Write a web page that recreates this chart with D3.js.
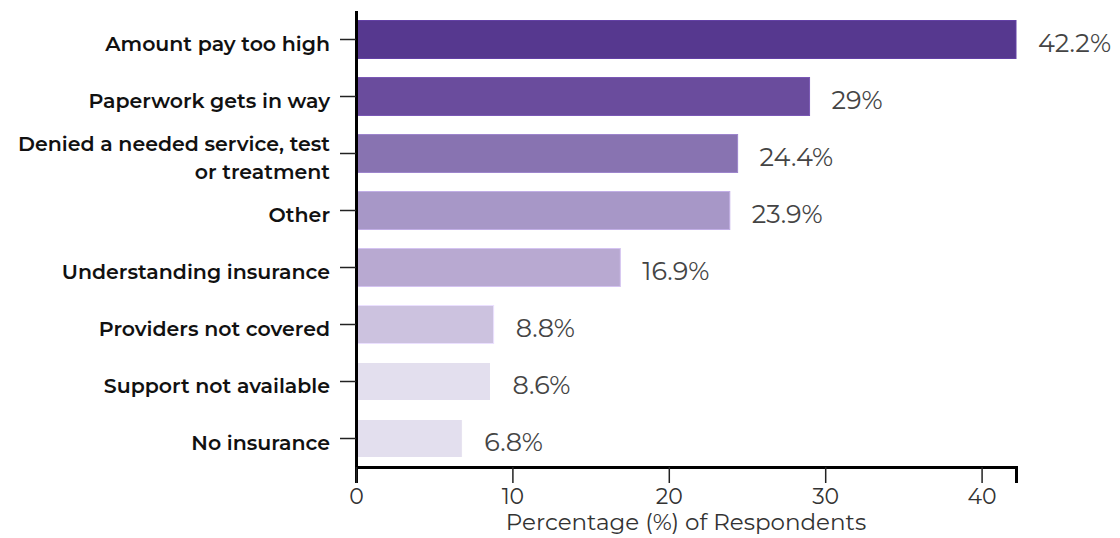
<!DOCTYPE html>
<html>
<head>
<meta charset="utf-8">
<script src="https://cdn.jsdelivr.net/npm/d3@7"></script>
<style>
  html, body { margin: 0; padding: 0; background: #fff; }
  svg { display: block; font-family: "Montserrat", "DejaVu Sans", sans-serif; }
</style>
</head>
<body>
<svg id="chart" width="1120" height="538"></svg>
<script>
// Reasons respondents gave for difficulty with insurance
const categories = [
  "Amount pay too high",
  "Paperwork gets in way",
  "Denied a needed service, test|or treatment",
  "Other",
  "Understanding insurance",
  "Providers not covered",
  "Support not available",
  "No insurance"
];
const values = [42.2, 29, 24.4, 23.9, 16.9, 8.8, 8.6, 6.8];
const valueLabels = ["42.2%", "29%", "24.4%", "23.9%", "16.9%", "8.8%", "8.6%", "6.8%"];
const barColors = ["#56388f", "#6a4c9d", "#8873b1", "#a797c7", "#b8a9d1", "#ccc2df", "#e3dfee", "#e3dfee"];
const xTicks = [0, 10, 20, 30, 40];
const xTitle = "Percentage (%) of Respondents";

const svg = d3.select("#chart");
const plot = { left: 356, right: 1016, top: 11, bottom: 467 };

const x = d3.scaleLinear().domain([0, 42.2]).range([plot.left, plot.right]);
const y = d3.scaleBand().domain(categories).range([plot.top, plot.bottom])
  .paddingInner(1 / 3).paddingOuter(1 / 6);

// bars
svg.append("g").selectAll("rect")
  .data(categories)
  .join("rect")
  .attr("x", x(0))
  .attr("y", d => y(d))
  .attr("width", (d, i) => x(values[i]) - x(0))
  .attr("height", y.bandwidth())
  .attr("fill", (d, i) => barColors[i])
  .attr("stroke", (d, i) => d3.color(barColors[i]).brighter(0.4))
  .attr("stroke-width", 1);

// value labels
svg.append("g").selectAll("text")
  .data(categories)
  .join("text")
  .attr("x", (d, i) => x(values[i]) + 22)
  .attr("y", d => y(d) + y.bandwidth() / 2 + 6)
  .attr("dominant-baseline", "middle")
  .attr("font-size", 25.5)
  .attr("font-weight", 400)
  .attr("fill", "#444")
  .text((d, i) => valueLabels[i]);

// x axis
const xAxis = svg.append("g")
  .attr("transform", `translate(0,${plot.bottom})`)
  .call(d3.axisBottom(x).tickValues(xTicks).tickSize(16).tickPadding(5).tickFormat(d3.format("d")));
xAxis.select(".domain").attr("stroke", "#000").attr("stroke-width", 3);
xAxis.selectAll(".tick line").attr("stroke", "#222").attr("stroke-width", 1.5);
xAxis.selectAll(".tick text").attr("font-size", 22).attr("fill", "#333")
  .attr("font-family", "Montserrat, 'DejaVu Sans', sans-serif").attr("font-weight", 400);

svg.append("text")
  .attr("x", 686)
  .attr("y", 524)
  .attr("dominant-baseline", "middle")
  .attr("text-anchor", "middle")
  .attr("font-size", 23)
  .attr("fill", "#333")
  .text(xTitle);

// y axis
const yAxis = svg.append("g")
  .attr("transform", `translate(${plot.left},0)`)
  .call(d3.axisLeft(y).tickSize(16).tickFormat(""));
yAxis.select(".domain").attr("stroke", "#000").attr("stroke-width", 3)
  .attr("d", `M0.5,${plot.top}V${plot.bottom}`);
yAxis.selectAll(".tick line").attr("stroke", "#222").attr("stroke-width", 1.5);

// category labels, with line breaks at "|"
const lab = svg.append("g").selectAll("text")
  .data(categories)
  .join("text")
  .attr("text-anchor", "end")
  .attr("font-size", 20.5)
  .attr("font-weight", 600)
  .attr("fill", "#111");
lab.each(function (d) {
  const lines = d.split("|");
  const cy = y(d) + y.bandwidth() / 2 + 6.5;
  const lh = 28;
  const t = d3.select(this);
  lines.forEach((ln, k) => {
    t.append("tspan")
      .attr("x", 330)
      .attr("y", cy + (k - (lines.length - 1) / 2) * lh)
      .attr("dominant-baseline", "middle")
      .text(ln);
  });
});
</script>
</body>
</html>
